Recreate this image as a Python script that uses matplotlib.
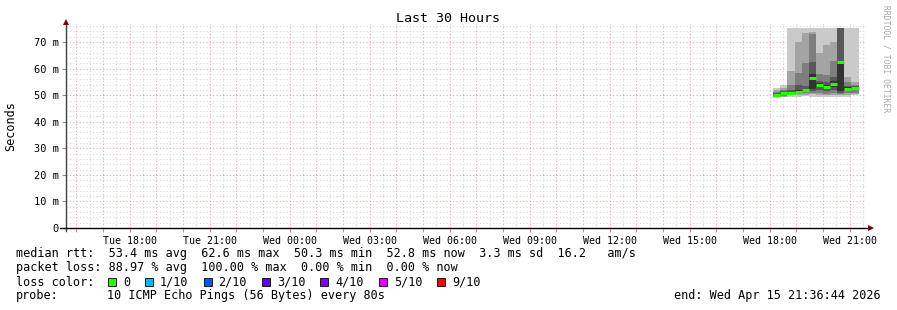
import numpy as np
import pandas as pd
import matplotlib
matplotlib.use('Agg')
import matplotlib.pyplot as plt
from matplotlib.patches import Rectangle

# ---- data ----
end_time = pd.Timestamp("2026-04-15 21:36:44")
span_h = 30
col_times = ["2026-04-15 18:08", "2026-04-15 18:24", "2026-04-15 18:40", "2026-04-15 18:56",
             "2026-04-15 19:12", "2026-04-15 19:28", "2026-04-15 19:44", "2026-04-15 20:00",
             "2026-04-15 20:16", "2026-04-15 20:32", "2026-04-15 20:48", "2026-04-15 21:04"]
step_min = 16

# smoke bands (ms), outer -> inner
l1_lo = [49.0, 49.2, 49.5, 49.5, 49.8, 49.5, 49.5, 49.5, 49.5, 49.5, 49.5, 50.0]
l1_hi = [52.7, 53.8, 75.3, 75.3, 75.3, 75.3, 75.3, 75.3, 75.3, 75.3, 75.3, 75.3]
l2_lo = [49.3, 49.5, 50.0, 50.0, 50.2, 50.5, 50.0, 50.0, 50.0, 50.0, 50.0, 50.5]
l2_hi = [52.0, 52.8, 59.0, 70.1, 73.3, 73.9, 65.7, 69.0, 70.0, 75.3, 57.0, 55.0]
l3_lo = [49.6, 49.8, 50.3, 50.5, 50.7, 51.0, 51.0, 50.5, 51.0, 50.5, 51.0, 51.0]
l3_hi = [51.3, 52.0, 54.0, 58.2, 62.0, 73.0, 58.0, 57.6, 63.0, 75.3, 55.0, 54.0]
l4_lo = [49.8, 50.2, 50.5, 50.8, 51.2, 51.5, 52.0, 51.5, 52.0, 51.0, 51.5, 51.8]
l4_hi = [50.8, 51.5, 52.0, 54.0, 53.5, 62.6, 55.5, 55.0, 57.0, 75.3, 53.5, 53.3]
l5_lo = [50.0, 50.5, 50.6, 51.0, 51.5, 52.5, 53.0, 52.5, 53.0, 51.5, 52.0, 52.3]
l5_hi = [50.4, 51.2, 51.0, 52.0, 52.3, 58.0, 54.5, 54.0, 55.5, 62.3, 53.0, 53.0]
median = [50.1, 50.9, 50.7, 51.1, 51.8, 56.6, 53.9, 53.1, 54.2, 62.5, 52.4, 52.7]

xtick_labels = ["Tue 18:00", "Tue 21:00", "Wed 00:00", "Wed 03:00", "Wed 06:00",
                "Wed 09:00", "Wed 12:00", "Wed 15:00", "Wed 18:00", "Wed 21:00"]
ytick_vals = [0, 10, 20, 30, 40, 50, 60, 70]
ytick_labels = ["0", "10 m", "20 m", "30 m", "40 m", "50 m", "60 m", "70 m"]

legend_lines = [
    "median rtt:  53.4 ms avg  62.6 ms max  50.3 ms min  52.8 ms now  3.3 ms sd  16.2   am/s",
    "packet loss: 88.97 % avg  100.00 % max  0.00 % min  0.00 % now",
]
loss_labels = ["0", "1/10", "2/10", "3/10", "4/10", "5/10", "9/10"]
loss_colors = ["#26ff00", "#00b8ff", "#0059ff", "#5e00ff", "#7e00ff", "#dd00ff", "#ff0000"]
probe_text = "10 ICMP Echo Pings (56 Bytes) every 80s"
end_text = "end: Wed Apr 15 21:36:44 2026"

# ---- figure ----
W, H = 897, 310
fig = plt.figure(figsize=(W / 100, H / 100), dpi=100)
fig.patch.set_facecolor('white')
mono = 'DejaVu Sans Mono'

def fx(px):
    return px / W

def fy(py):
    return 1 - py / H

ax_l, ax_r, ax_b, ax_t = 66, 866, 228, 24
ax = fig.add_axes([fx(ax_l), fy(ax_b), (ax_r - ax_l) / W, (ax_b - ax_t) / H])
ax.set_facecolor('white')

start_time = end_time - pd.Timedelta(hours=span_h)
hrs = lambda t: (pd.Timestamp(t) - start_time) / pd.Timedelta(hours=1)
x = np.array([hrs(t) for t in col_times])
w = step_min / 60

ax.set_xlim(0, span_h)
ax.set_ylim(0, 76.8)

# grid
first_hour = hrs(start_time.ceil('h'))
hour_ticks = np.arange(first_hour, span_h + 0.01, 1.0)
half_ticks = np.arange(first_hour - 0.5, span_h + 0.01, 1.0)
for hx in half_ticks:
    ax.axvline(hx, color='#d8d8d8', lw=0.8, ls=(0, (1, 2)), zorder=0)
for yy in np.arange(2, 76.8, 2):
    if yy % 10:
        ax.axhline(yy, color='#d8d8d8', lw=0.8, ls=(0, (1, 2)), zorder=0)
for hx in hour_ticks:
    ax.axvline(hx, color='#f4a8a8', lw=0.8, ls=(0, (1, 2)), zorder=0)
for yy in ytick_vals[1:]:
    ax.axhline(yy, color='#f4a8a8', lw=0.8, ls=(0, (1, 2)), zorder=0)

# smoke
shades = ['#cacaca', '#a4a4a4', '#7e7e7e', '#585858', '#323232']
bands = [(l1_lo, l1_hi), (l2_lo, l2_hi), (l3_lo, l3_hi), (l4_lo, l4_hi), (l5_lo, l5_hi)]
for (lo, hi), c in zip(bands, shades):
    lo = np.array(lo); hi = np.array(hi)
    ax.bar(x, hi - lo, bottom=lo, width=w, align='edge', color=c, lw=0, zorder=2)
ax.hlines(median, x, x + w, color='#26ff00', lw=2.2, zorder=3)

# ticks
labels = []
k = 0
for h in hour_ticks:
    if (start_time + pd.Timedelta(hours=h)).round('min').hour % 3 == 0:
        labels.append(xtick_labels[k]); k += 1
    else:
        labels.append('')
ax.set_xticks(hour_ticks)
ax.set_xticklabels(labels, fontfamily=mono, fontsize=7.2)
ax.set_yticks(ytick_vals)
ax.set_yticklabels(ytick_labels, fontfamily=mono, fontsize=7.5)
ax.tick_params(axis='x', length=3, width=0.8, color='#f08080', pad=3)
ax.tick_params(axis='y', length=3, width=0.8, color='#909090', pad=2)
for s in ax.spines.values():
    s.set_visible(False)

# axes lines with arrowheads
fig.add_artist(plt.Line2D([fx(ax_l), fx(ax_l)], [fy(ax_b + 3), fy(22)], color='#404040', lw=1))
fig.add_artist(plt.Line2D([fx(60), fx(871)], [fy(ax_b), fy(ax_b)], color='black', lw=1))
fig.add_artist(plt.Line2D([fx(ax_l)], [fy(22)], marker='^', color='#800000', ms=4.5, mew=0))
fig.add_artist(plt.Line2D([fx(871)], [fy(ax_b)], marker='>', color='#800000', ms=4.5, mew=0))

# texts
fig.text(fx(448), fy(19), "Last 30 Hours", family=mono, fontsize=9.6, ha='center', va='center')
fig.text(fx(11), fy(126), "Seconds", family=mono, fontsize=8.5, rotation=90, ha='center', va='center')
fig.text(fx(886), fy(59), "RRDTOOL / TOBI OETIKER", family=mono, fontsize=5.8, rotation=270,
         ha='center', va='center', color='#a8a8a8')

ys = [254, 268, 282, 296]
for line, yy in zip(legend_lines, ys):
    fig.text(fx(16), fy(yy), line, family=mono, fontsize=8.5, va='center')
fig.text(fx(16), fy(ys[2]), "loss color:", family=mono, fontsize=8.5, va='center')
cw = 7.1
bx = 108
for lab, col in zip(loss_labels, loss_colors):
    fig.add_artist(Rectangle((fx(bx), fy(ys[2] + 4)), 8 / W, 8 / H, facecolor=col,
                             edgecolor='black', lw=0.6))
    fig.text(fx(bx + 15), fy(ys[2]), lab, family=mono, fontsize=8.5, va='center')
    bx = bx + 15 + len(lab) * cw + 15
fig.text(fx(16), fy(ys[3]), "probe:", family=mono, fontsize=8.5, va='center')
fig.text(fx(107), fy(ys[3]), probe_text, family=mono, fontsize=8.5, va='center')
fig.text(fx(881), fy(ys[3]), end_text, family=mono, fontsize=8.5, va='center', ha='right')

fig.savefig('out.png', dpi=100, facecolor='white')
